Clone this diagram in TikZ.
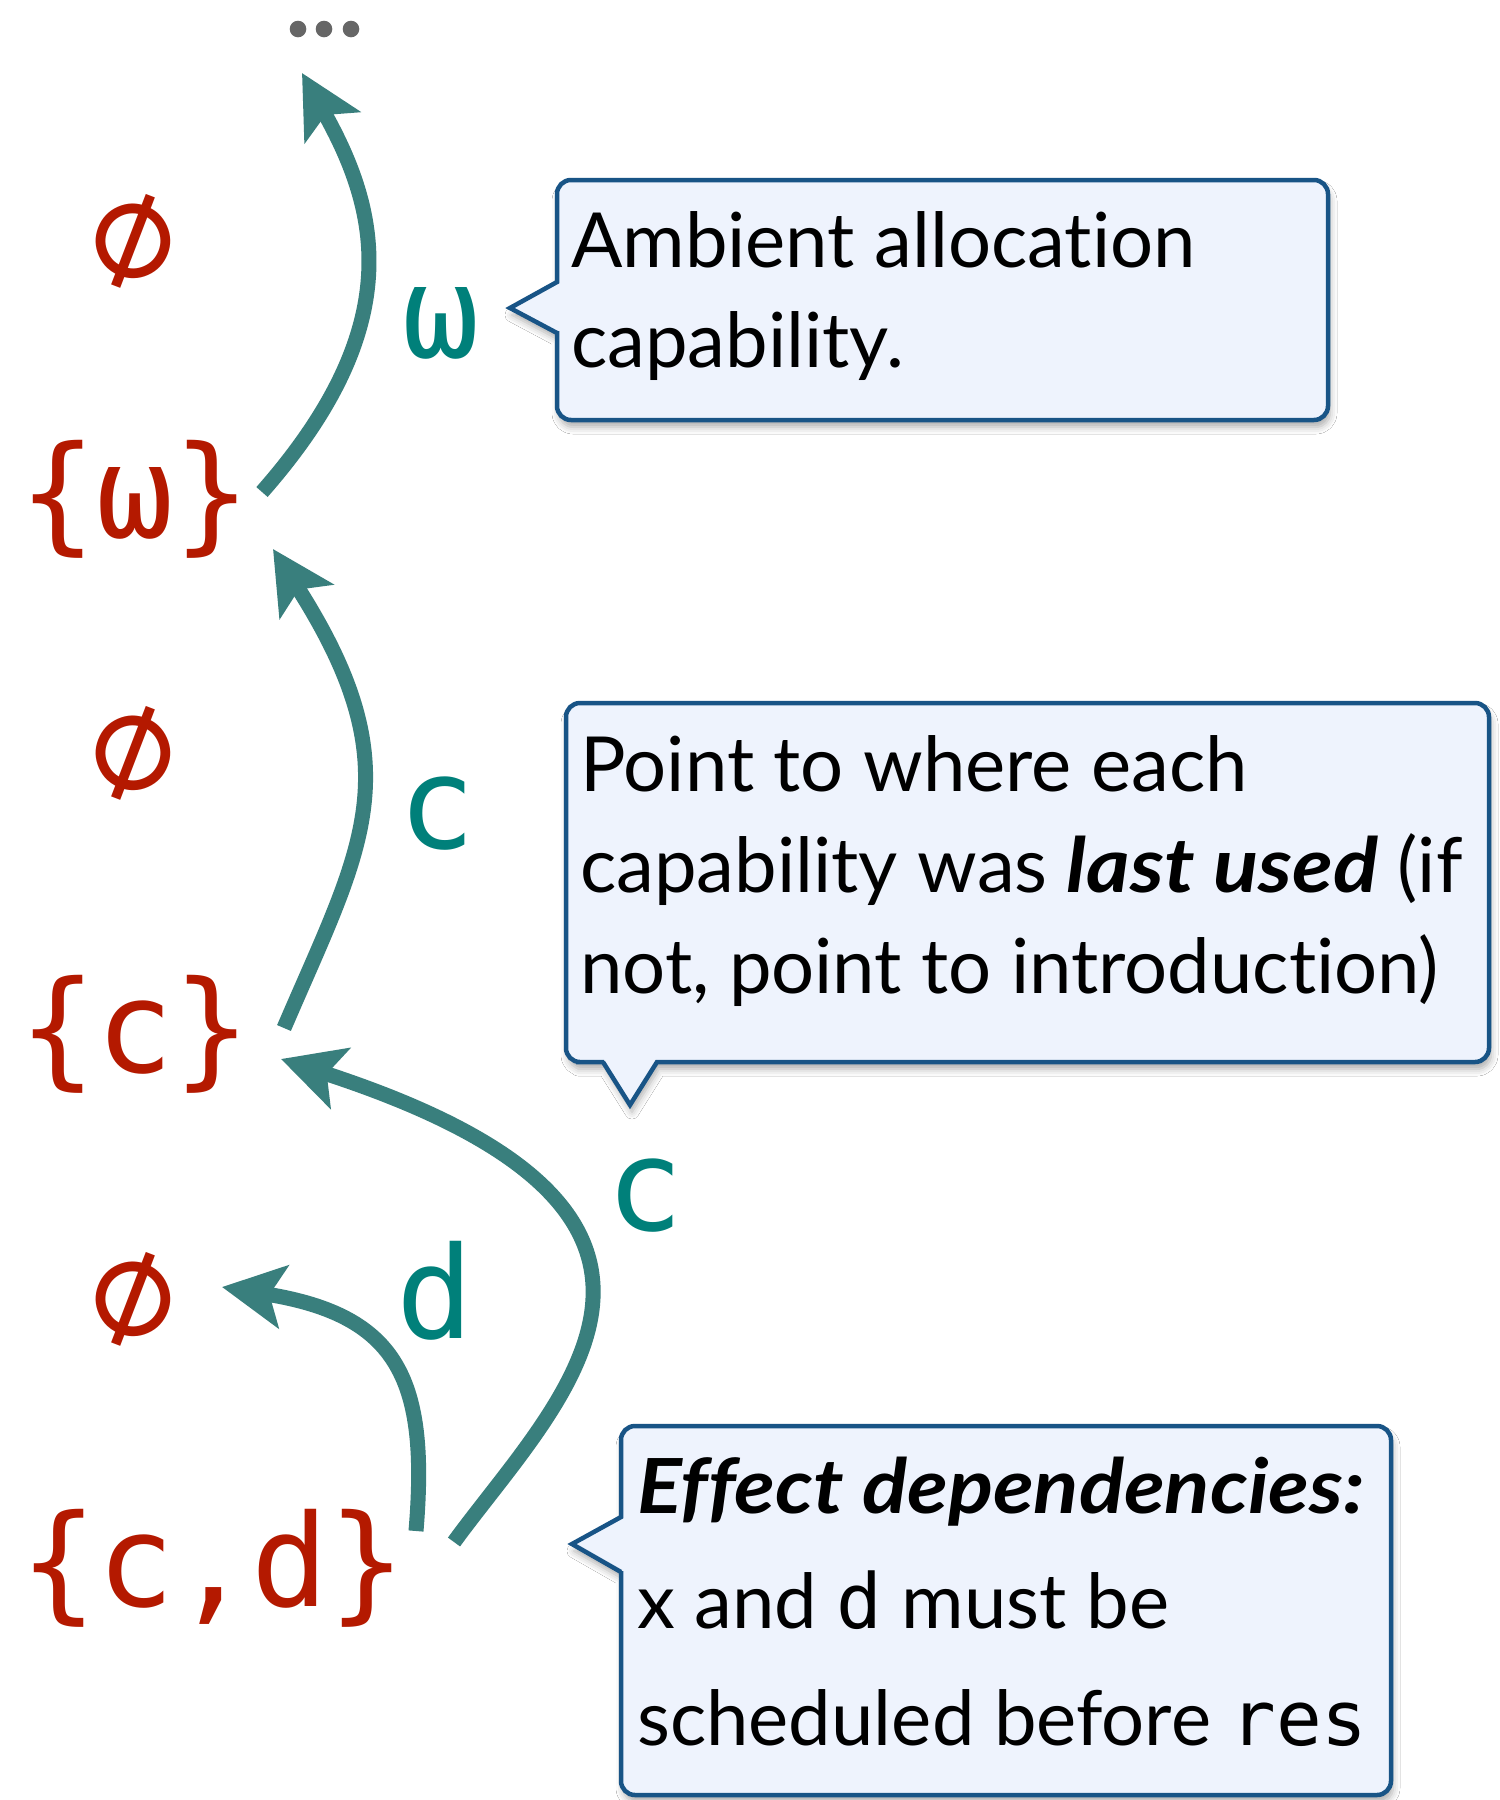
\documentclass[tikz,border=0pt]{standalone}
\usepackage{fontspec}
\setmainfont{Lato}[Ligatures=NoCommon]
\newfontfamily\strongfont{Lato}[Ligatures=NoCommon, FakeStretch=1.1]
\newfontfamily\codefont{DejaVu Sans Mono}
\usetikzlibrary{arrows.meta,shadows.blur}

\definecolor{setred}{RGB}{180,25,0}
\definecolor{captext}{RGB}{0,128,122}
\definecolor{capline}{RGB}{57,127,125}
\definecolor{notefill}{RGB}{238,243,253}
\definecolor{noteline}{RGB}{24,84,134}
\definecolor{dotgray}{RGB}{102,102,102}

\newcommand{\keyphrase}[1]{{\strongfont\bfseries\itshape #1}}
\newcommand{\codeword}[1]{{\codefont #1}}

\tikzset{
  setlabel/.style={text=setred, inner sep=0pt, anchor=base,
    font=\codefont\fontsize{128}{128}\selectfont},
  emptyset/.style={text=setred, inner sep=0pt, anchor=center, rotate=24,
    font=\codefont\fontsize{142}{142}\selectfont},
  caplabel/.style={text=captext, inner sep=0pt, anchor=base,
    font=\codefont\fontsize{128}{128}\selectfont},
  flow/.style={draw=capline, line width=15pt,
    -{Stealth[length=62pt,width=63pt,inset=14pt]}},
  note/.style={draw=noteline, fill=notefill, line width=4.5pt,
    blur shadow={shadow xshift=2pt, shadow yshift=-7pt,
      shadow blur radius=7pt, shadow opacity=32}},
  notetext/.style={anchor=base west, inner sep=0pt,
    font=\fontsize{76}{101}\selectfont}
}

\begin{document}
\begin{tikzpicture}[x=1pt,y=-1pt]
\useasboundingbox (0,0) rectangle (1500,1800);
\fill[white] (0,0) rectangle (1500,1800);

% capability sets, one per line of the program
\node[emptyset] (e1)  at (135,245)  {∅};
\node[setlabel] (sw)  at (135,537)  {\{ω\}};
\node[emptyset] (e2)  at (135,757)  {∅};
\node[setlabel] (sc)  at (135,1072) {\{c\}};
\node[emptyset] (e3)  at (135,1303) {∅};
\node[setlabel] (scd) at (213,1606) {\{c,d\}};

% continuation marker at the top
\fill[dotgray] (298,29) circle (8.3pt) (324,29) circle (8.3pt) (351,29) circle (8.3pt);
\coordinate (more) at (302,73);

% arrow end points next to the sets
\coordinate (swOut)  at (262,492);
\coordinate (swIn)   at (273,549);
\coordinate (scOut)  at (284,1028);
\coordinate (scIn)   at (281,1059);
\coordinate (e3In)   at (222,1287);
\coordinate (scdD)   at (416,1531);
\coordinate (scdC)   at (454,1542);

% dependency arrows
\draw[flow] (swOut) .. controls (409,325) and (378.5,209.6) .. (more);
\draw[flow] (scOut) .. controls (362,846) and (414,770) .. (swIn);
\draw[flow] (scdC) .. controls (556,1402) and (764,1216) .. (scIn);
\draw[flow] (scdD) .. controls (428.5,1381.5) and (399.7,1315.4) .. (e3In);

% capability labels on the arrows
\node[caplabel] (lw)  at (441,357)  {ω};
\node[caplabel] (lc1) at (437,848)  {c};
\node[caplabel] (lc2) at (645,1230) {c};
\node[caplabel] (ld)  at (435,1338) {d};

% callout: ambient allocation
\path[note] (510,308) -- (557,282) -- (557,270) [rounded corners=14pt]
  -- (557,180) -- (1328,180) -- (1328,420) -- (557,420) -- (557,345)
  [sharp corners] -- (557,333) -- cycle;
\node[notetext] (n1a) at (571,267) {Ambient allocation};
\node[notetext] (n1b) at (571,367) {capability.};

% callout: last use
\path[note] (630,1105) -- (657,1062) -- (670,1062) [rounded corners=14pt]
  -- (1489,1062) -- (1489,703) -- (566,703) -- (566,1062) -- (590,1062)
  [sharp corners] -- (603,1062) -- cycle;
\node[notetext] (n2a) at (580,791) {Point to where each};
\node[notetext] (n2b) at (580,892) {capability was \keyphrase{last used} (if};
\node[notetext] (n2c) at (580,993) {not, point to introduction)};

% callout: effect dependencies
\path[note] (572,1544) -- (621,1517) -- (621,1505) [rounded corners=14pt]
  -- (621,1426) -- (1391,1426) -- (1391,1795) -- (621,1795) -- (621,1585)
  [sharp corners] -- (621,1572) -- cycle;
\node[notetext] (n3a) at (637,1513) {\keyphrase{Effect dependencies:}};
\node[notetext] (n3b) at (637,1628) {x and \codeword{d} must be};
\node[notetext] (n3c) at (637,1745) {scheduled before \codeword{res}};
\end{tikzpicture}
\end{document}
